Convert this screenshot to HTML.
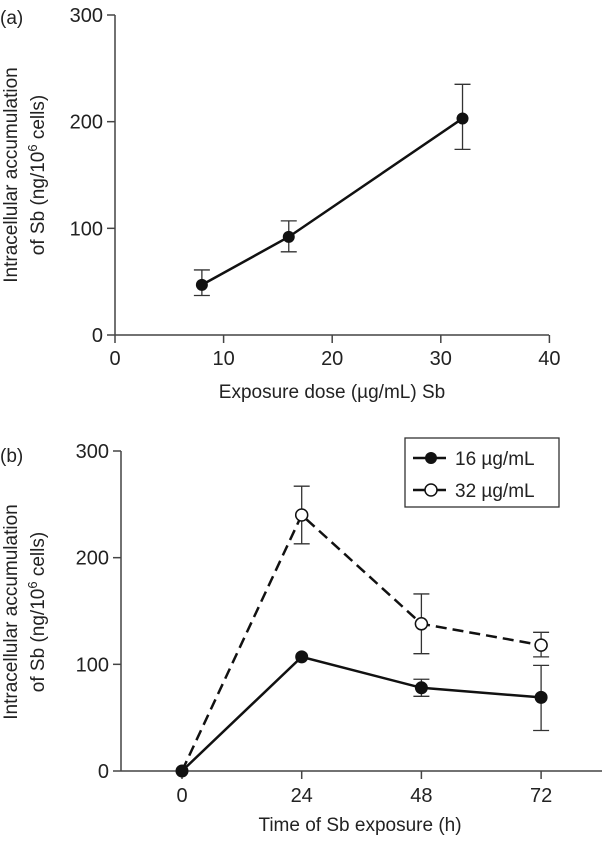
<!DOCTYPE html>
<html><head><meta charset="utf-8"><style>
html,body{margin:0;padding:0;background:#fff;}
svg text{font-family:"Liberation Sans",sans-serif;fill:#222;}
</style></head><body>
<svg id="chart" width="602" height="841" xmlns="http://www.w3.org/2000/svg"></svg>
<script>
// Panel A data
const doseX=[8,16,32];
const doseY=[47,92,203];
const doseLo=[37,78,174];
const doseHi=[61,107,235];
const aXTicks=[0,10,20,30,40];
const yTicks=[0,100,200,300];
// Panel B data
const timeX=[0,24,48,72];
const s16=[0,107,78,69];
const s16Lo=[0,107,70,38];
const s16Hi=[0,107,86,99];
const s32=[0,240,138,118];
const s32Lo=[0,213,110,107];
const s32Hi=[0,267,166,130];
const bXTicks=[0,24,48,72];

const svg=document.getElementById('chart');
const NS='http://www.w3.org/2000/svg';
function el(tag,attrs,parent){const e=document.createElementNS(NS,tag);for(const k in attrs)e.setAttribute(k,attrs[k]);(parent||svg).appendChild(e);return e;}
function txt(x,y,s,size,anchor,parent){const t=el('text',{x:x,y:y,'font-size':size,'text-anchor':anchor||'middle'},parent);t.textContent=s;return t;}

// Panel A scales
const ax=v=>115+v*10.86;
const ay=v=>335-v*320/300;
// Panel B scales
const bx=v=>182+v*119.7/24;
const by=v=>771-v*320/300;

function yAxis(g,x0,yf,xEnd,y0){
  el('line',{x1:x0,y1:yf(0),x2:x0,y2:yf(300),stroke:'#444','stroke-width':1.5},g);
  el('line',{x1:x0,y1:yf(0),x2:xEnd,y2:yf(0),stroke:'#444','stroke-width':1.5},g);
  yTicks.forEach(v=>{
    const tk=el('line',{x1:x0-8,y1:yf(v),x2:x0,y2:yf(v),stroke:'#444','stroke-width':1.5},g);
    
    
    const t=txt(x0-12,yf(v)+7,String(v),20,'end',g);
    
    
  });
}
function yTitle(g,cx,cy){
  const t1=el('text',{x:0,y:0,'font-size':19,'text-anchor':'middle',transform:`translate(${cx},${cy}) rotate(-90)`},g);
  t1.textContent='Intracellular accumulation';
  
  
  const t2=el('text',{x:0,y:0,'font-size':19,'text-anchor':'middle',transform:`translate(${cx+27},${cy}) rotate(-90)`},g);
  t2.innerHTML='of Sb (ng/10<tspan dy="-7" font-size="13">6</tspan><tspan dy="7"> cells)</tspan>';
  
  
}
function errBar(g,x,lo,hi){
  el('line',{x1:x,y1:lo,x2:x,y2:hi,stroke:'#333','stroke-width':1.3},g);
  el('line',{x1:x-8,y1:lo,x2:x+8,y2:lo,stroke:'#333','stroke-width':1.3},g);
  el('line',{x1:x-8,y1:hi,x2:x+8,y2:hi,stroke:'#333','stroke-width':1.3},g);
}

// ---------- Panel A ----------
const gA=el('g',{});


txt(0,24,'(a)',19,'start',gA);
yAxis(gA,115,ay,549);
aXTicks.forEach(v=>{
  const tk=el('line',{x1:ax(v),y1:335,x2:ax(v),y2:343,stroke:'#444','stroke-width':1.5},gA);
  
  
  const t=txt(ax(v),365,String(v),20,'middle',gA);
  
  
});
const xtA=txt(332,398,'Exposure dose (\u00b5g/mL) Sb',19,'middle',gA);


yTitle(gA,17,175);
const lineA=el('polyline',{points:doseX.map((x,i)=>ax(x)+','+ay(doseY[i])).join(' '),fill:'none',stroke:'#111','stroke-width':2.5},gA);


doseX.forEach((x,i)=>{
  errBar(gA,ax(x),ay(doseLo[i]),ay(doseHi[i]));
  const c=el('circle',{cx:ax(x),cy:ay(doseY[i]),r:6,fill:'#111'},gA);
  
  
});

// ---------- Panel B ----------
const gB=el('g',{});


txt(0,462,'(b)',19,'start',gB);
yAxis(gB,121,by,602);
bXTicks.forEach(v=>{
  const tk=el('line',{x1:bx(v),y1:771,x2:bx(v),y2:779,stroke:'#444','stroke-width':1.5},gB);
  
  
  const t=txt(bx(v),802,String(v),20,'middle',gB);
  
  
});
const xtB=txt(360,831,'Time of Sb exposure (h)',19,'middle',gB);


yTitle(gB,17,612);

const l32=el('polyline',{points:timeX.map((x,i)=>bx(x)+','+by(s32[i])).join(' '),fill:'none',stroke:'#111','stroke-width':2.5,'stroke-dasharray':'11,6'},gB);


const l16=el('polyline',{points:timeX.map((x,i)=>bx(x)+','+by(s16[i])).join(' '),fill:'none',stroke:'#111','stroke-width':2.5},gB);


timeX.forEach((x,i)=>{
  if(s32Hi[i]!==s32Lo[i]) errBar(gB,bx(x),by(s32Lo[i]),by(s32Hi[i]));
  if(s16Hi[i]!==s16Lo[i]) errBar(gB,bx(x),by(s16Lo[i]),by(s16Hi[i]));
});
timeX.forEach((x,i)=>{
  if(i>0){
    const c=el('circle',{cx:bx(x),cy:by(s32[i]),r:6,fill:'#fff',stroke:'#111','stroke-width':1.5},gB);
    
    
  }
  const c2=el('circle',{cx:bx(x),cy:by(s16[i]),r:6.5,fill:'#111'},gB);
  
  
});

// Legend
const lg=el('g',{});


el('rect',{x:405,y:438,width:154,height:69,fill:'#fff',stroke:'#333','stroke-width':1.3},lg);
const e1=el('g',{},lg);


el('line',{x1:413,y1:458,x2:446,y2:458,stroke:'#111','stroke-width':2.5},e1);
el('circle',{cx:431,cy:458,r:6,fill:'#111'},e1);
txt(455,465,'16 \u00b5g/mL',19,'start',e1);
const e2=el('g',{},lg);


el('line',{x1:413,y1:490,x2:446,y2:490,stroke:'#111','stroke-width':2.5},e2);
el('circle',{cx:431,cy:490,r:6,fill:'#fff',stroke:'#111','stroke-width':1.5},e2);
txt(455,497,'32 \u00b5g/mL',19,'start',e2);
</script>
</body></html>
